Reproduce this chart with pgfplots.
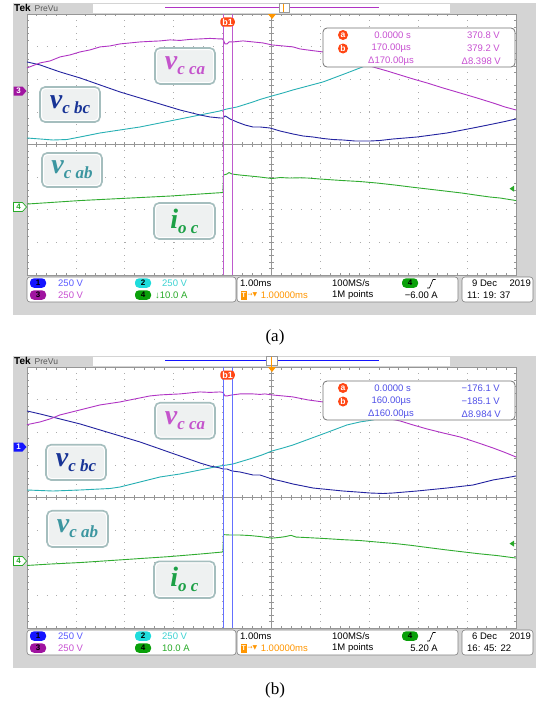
\documentclass[border=0pt]{standalone}
\usepackage{fontspec}
\setmainfont{Liberation Serif}
\newfontfamily\tek{Liberation Sans}
\newfontfamily\sym{DejaVu Sans}
\usepackage{pgfplots}
\usepackage{pgfplotstable}
\pgfplotsset{compat=1.18}

\definecolor{bggray}{RGB}{212,212,212}
\definecolor{gridc}{RGB}{150,150,150}
\definecolor{trM}{RGB}{176,52,196}
\definecolor{trB}{RGB}{36,36,160}
\definecolor{trC}{RGB}{40,176,180}
\definecolor{trG}{RGB}{48,172,48}
\definecolor{curA}{RGB}{190,90,205}
\definecolor{curB}{RGB}{100,112,255}
\definecolor{labM}{RGB}{196,84,204}
\definecolor{labB}{RGB}{24,52,150}
\definecolor{labC}{RGB}{60,150,160}
\definecolor{labG}{RGB}{28,160,70}
\definecolor{boxfill}{RGB}{238,241,241}
\definecolor{boxedge}{RGB}{165,190,190}
\definecolor{stB}{RGB}{90,90,255}
\definecolor{stC}{RGB}{60,210,210}
\definecolor{stM}{RGB}{200,80,210}
\definecolor{stG}{RGB}{40,170,40}
\definecolor{rdB}{RGB}{80,80,232}
\definecolor{bdgB}{RGB}{20,20,255}
\definecolor{bdgC}{RGB}{30,220,220}
\definecolor{bdgM}{RGB}{160,20,160}
\definecolor{bdgG}{RGB}{10,160,10}
\definecolor{orng}{RGB}{255,150,0}
\definecolor{redo}{RGB}{255,70,20}

\newcommand\tf{\tek\fontsize{9.5}{10}\selectfont}
\newcommand\bdgfont{\tek\bfseries\fontsize{8}{8}\selectfont}

\pgfplotsset{tekscope/.style={
  width=489pt, height=261pt, scale only axis,
  anchor=north west,
  xmin=0, xmax=10, ymin=-4, ymax=4,
  xtick={0,...,10}, ytick={-4,...,4},
  xmajorticks=false, ymajorticks=false,
  minor x tick num=4, minor y tick num=4,
  xminorticks=true, yminorticks=true,
  tick align=inside, minor tick length=2.5pt,
  minor tick style={gridc, line width=0.6pt},
  xmajorgrids=true, ymajorgrids=true,
  x grid style={gridc!80, line width=0.7pt, dash pattern=on 0.8pt off 5.72pt},
  y grid style={gridc!80, line width=0.7pt, dash pattern=on 0.8pt off 8.98pt},
  axis line style={gridc, line width=0.8pt},
  axis background/.style={fill=white},
  clip=true,
  every axis plot/.append style={line width=0.9pt, no markers},
}}

\newcommand\labbox[5]{%
  \draw[boxedge, line width=1.6pt, fill=boxfill, rounded corners=5pt] (#1,#2) rectangle (#3,#4);
  \draw[white, line width=0.8pt, rounded corners=4pt] ({#1+1.6},{#2+1.6}) rectangle ({#3-1.6},{#4-1.6});
  \node[inner sep=0pt] at ({(#1+#3)/2},{(#2+#4)/2}) {#5};}
\newcommand\labtext[3]{\textcolor{#1}{\fontsize{28}{28}\selectfont\bfseries\itshape #2\raisebox{-5pt}{\fontsize{17}{17}\selectfont #3}}}
\newcommand\badge[4]{%
  \fill[#3, rounded corners=4pt] (#1,#2) rectangle ({#1+16},{#2+9.5});
  \node[inner sep=0pt, text=black] at ({#1+8},{#2+4.75}) {\bdgfont #4};}

\newcommand\panelbg{%
  \fill[bggray] (13,3) rectangle (536,315);
  \fill[white] (93,3.5) rectangle (450,13);
  \node[anchor=west, inner sep=0pt] at (14,8.3) {\tek\bfseries\fontsize{10}{10}\selectfont Tek};
  \node[anchor=west, inner sep=0pt, text=black!65] at (34.5,8.3) {\tek\fontsize{8.5}{8.5}\selectfont PreVu};
}
\newcommand\panelfg{%
  \fill[orng] (268,14) -- (276,14) -- (272,19) -- cycle;
  \node[fill=redo, rounded corners=3.5pt, inner xsep=2pt, inner ysep=1.2pt, text=white] at (227.5,22) {\tek\bfseries\fontsize{9}{9}\selectfont b1};
  \draw[fill=white, draw=black!55, line width=0.8pt, rounded corners=4pt] (323,28) rectangle (515,67);
  \fill[redo] (343,35) circle (5);
  \node[text=white, inner sep=0pt] at (343,35) {\tek\bfseries\fontsize{8.5}{8.5}\selectfont a};
  \fill[redo] (343,48.5) circle (5);
  \node[text=white, inner sep=0pt] at (343,48.5) {\tek\bfseries\fontsize{8.5}{8.5}\selectfont b};
  \draw[fill=white, draw=black!50, line width=0.6pt, rounded corners=3pt] (27,277) rectangle (236,302);
  \draw[fill=white, draw=black!50, line width=0.6pt, rounded corners=3pt] (237,277) rectangle (458,302);
  \draw[fill=white, draw=black!50, line width=0.6pt, rounded corners=3pt] (462,277) rectangle (533,302);
  \badge{30}{278.3}{bdgB}{1}
  \badge{135}{278.3}{bdgC}{2}
  \badge{30}{290.3}{bdgM}{3}
  \badge{135}{290.3}{bdgG}{4}
  \badge{402}{278.3}{bdgG}{4}
  \node[anchor=west, inner sep=0pt, text=stB] at (58,283) {\tf 250 V};
  \node[anchor=west, inner sep=0pt, text=stM] at (58,295) {\tf 250 V};
  \node[anchor=west, inner sep=0pt, text=stC] at (162,283) {\tf 250 V};
  \node[anchor=west, inner sep=0pt] at (240,283) {\tf 1.00ms};
  \fill[orng] (240.5,290.5) rectangle (247,299.5);
  \node[text=white, inner sep=0pt] at (243.75,295) {\tek\bfseries\fontsize{7}{7}\selectfont T};
  \node[anchor=west, inner sep=0pt, text=orng] at (247.5,295) {\sym\fontsize{6}{6}\selectfont →▼};
  \node[anchor=east, inner sep=0pt, text=orng] at (308,295) {\tf 1.00000ms};
  \node[anchor=west, inner sep=0pt] at (332,283) {\tf 100MS/s};
  \node[anchor=west, inner sep=0pt] at (332,295) {\tf 1M points};
  \draw[line width=0.6pt] (427,288) -- (429.5,288) -- (433,279.5) -- (435.5,279.5);
}
\newcommand\centerlines{%
  \draw[gridc, line width=0.8pt] (axis cs:0,0) -- (axis cs:10,0);
  \draw[gridc, line width=0.8pt] (axis cs:5,-4) -- (axis cs:5,4);
  \pgfplotsinvokeforeach{0.2,0.4,...,9.8}{\draw[gridc, line width=0.6pt] (axis cs:##1,-0.075) -- (axis cs:##1,0.075);}
  \pgfplotsinvokeforeach{-3.8,-3.6,...,3.8}{\draw[gridc, line width=0.6pt] (axis cs:4.95,##1) -- (axis cs:5.05,##1);}
}

\begin{document}

\pgfplotstableread{
t d
0.000 2.347
0.266 2.500
0.470 2.561
0.675 2.684
0.879 2.745
1.084 2.837
1.288 2.899
1.493 2.991
1.697 3.021
1.902 3.083
2.106 3.113
2.311 3.144
2.515 3.160
2.720 3.175
2.924 3.206
3.129 3.190
3.333 3.221
3.538 3.236
3.742 3.252
3.947 3.236
4.008 3.236
4.049 3.083
4.090 3.083
4.131 3.144
4.213 3.144
4.417 3.175
4.622 3.144
4.826 3.113
5.010 3.052
5.235 3.021
5.440 2.991
5.583 2.929
5.726 2.899
5.890 2.868
6.053 2.837
6.401 2.684
6.748 2.531
7.076 2.377
7.362 2.255
7.628 2.132
7.894 2.009
8.180 1.887
8.507 1.733
8.855 1.580
9.202 1.426
9.530 1.273
9.775 1.150
10.000 1.058
}\magA

\pgfplotstableread{
t d
0.000 2.531
0.266 2.439
0.470 2.331
0.675 2.224
0.879 2.132
1.084 2.040
1.288 1.933
1.493 1.825
1.697 1.718
1.902 1.610
2.106 1.518
2.311 1.426
2.515 1.334
2.720 1.242
2.924 1.150
3.129 1.058
3.333 0.982
3.538 0.905
3.742 0.844
3.947 0.813
4.008 0.813
4.049 0.874
4.090 0.844
4.151 0.782
4.294 0.690
4.458 0.598
4.622 0.537
4.765 0.537
4.969 0.506
5.174 0.414
5.440 0.322
5.644 0.261
5.849 0.230
6.053 0.184
6.258 0.153
6.462 0.138
6.708 0.107
7.014 0.107
7.219 0.123
7.485 0.169
7.730 0.199
7.975 0.230
8.282 0.291
8.589 0.353
8.855 0.429
9.121 0.506
9.325 0.567
9.530 0.629
9.775 0.706
10.000 0.782
}\blueA

\pgfplotstableread{
t d
0.000 0.199
0.266 0.169
0.532 0.138
0.818 0.153
1.084 0.230
1.288 0.291
1.493 0.353
1.697 0.399
1.902 0.445
2.106 0.491
2.311 0.537
2.515 0.598
2.720 0.660
2.924 0.721
3.129 0.782
3.333 0.844
3.538 0.905
3.742 0.966
3.947 1.028
4.008 1.058
4.090 1.089
4.294 1.150
4.458 1.227
4.622 1.304
4.765 1.380
5.010 1.488
5.235 1.580
5.440 1.672
5.746 1.794
6.053 1.917
6.299 2.055
6.544 2.193
6.810 2.347
7.014 2.469
}\cyanA

\pgfplotstableread{
t d
0.000 -1.825
0.470 -1.779
1.084 -1.718
1.697 -1.672
2.311 -1.626
2.924 -1.580
3.538 -1.518
4.008 -1.472
4.018 -0.936
4.090 -0.905
4.131 -0.860
4.192 -0.905
4.356 -0.936
4.560 -0.966
4.765 -0.997
5.010 -1.043
5.174 -1.012
5.378 -1.028
5.583 -1.020
5.746 -1.028
5.992 -1.058
6.442 -1.104
6.810 -1.135
7.157 -1.181
7.526 -1.242
7.853 -1.304
8.200 -1.365
8.548 -1.426
8.896 -1.488
9.243 -1.564
9.468 -1.610
9.673 -1.640
10.000 -1.718
}\greenA

\pgfplotstableread{
t d
0.000 2.233
0.266 2.316
0.470 2.408
0.675 2.531
0.879 2.607
1.084 2.684
1.288 2.761
1.493 2.837
1.697 2.883
1.902 2.929
2.106 2.991
2.311 3.052
2.515 3.113
2.720 3.144
2.924 3.160
3.129 3.175
3.333 3.206
3.538 3.236
3.742 3.221
3.947 3.236
4.008 3.221
4.049 3.113
4.090 3.113
4.192 3.144
4.356 3.175
4.622 3.175
4.765 3.160
4.867 3.175
5.010 3.144
5.235 3.113
5.440 3.083
5.746 2.991
6.053 2.929
6.401 2.776
6.810 2.623
7.219 2.469
7.628 2.347
7.894 2.224
8.180 2.101
8.507 1.979
8.855 1.856
9.202 1.687
9.530 1.518
9.775 1.380
10.000 1.242
}\magB

\pgfplotstableread{
t d
0.000 2.653
0.266 2.561
0.470 2.485
0.675 2.408
0.879 2.331
1.084 2.255
1.288 2.163
1.493 2.071
1.697 1.979
1.902 1.887
2.106 1.794
2.311 1.702
2.515 1.595
2.720 1.488
2.924 1.380
3.129 1.273
3.333 1.166
3.538 1.058
3.742 0.966
3.947 0.905
4.008 0.874
4.090 0.874
4.192 0.813
4.356 0.782
4.622 0.690
4.765 0.690
5.010 0.567
5.235 0.491
5.440 0.414
5.644 0.353
5.849 0.291
6.155 0.245
6.462 0.199
6.748 0.169
7.014 0.138
7.280 0.123
7.485 0.138
7.730 0.169
7.975 0.199
8.282 0.245
8.589 0.291
8.855 0.337
9.121 0.383
9.325 0.460
9.530 0.537
9.775 0.598
10.000 0.660
}\blueB

\pgfplotstableread{
t d
0.000 0.230
0.532 0.199
1.084 0.230
1.493 0.261
1.697 0.276
1.902 0.322
2.106 0.399
2.311 0.475
2.515 0.552
2.720 0.629
2.924 0.675
3.129 0.721
3.333 0.782
3.538 0.844
3.742 0.905
3.947 0.966
4.090 0.997
4.213 1.028
4.417 1.120
4.622 1.212
4.806 1.304
5.010 1.426
5.235 1.518
5.440 1.610
5.746 1.779
6.053 1.948
6.299 2.086
6.544 2.224
6.810 2.316
7.076 2.377
7.321 2.500
}\cyanB

\pgfplotstableread{
t d
0.000 -2.083
0.470 -2.040
1.084 -1.994
1.697 -1.933
2.311 -1.871
2.924 -1.810
3.538 -1.733
3.988 -1.672
4.008 -1.650
4.018 -1.138
4.151 -1.150
4.356 -1.150
4.560 -1.166
4.765 -1.196
5.010 -1.245
5.174 -1.222
5.276 -1.200
5.399 -1.160
5.501 -1.212
5.746 -1.230
6.094 -1.258
6.442 -1.291
6.810 -1.319
7.157 -1.365
7.526 -1.411
7.853 -1.466
8.200 -1.534
8.548 -1.601
8.896 -1.663
9.243 -1.724
9.611 -1.779
10.000 -1.856
}\greenB

\begin{tikzpicture}
\path[use as bounding box] (0pt,0pt) rectangle (537pt,-704pt);

% ---------------- panel (a) ----------------
\begin{scope}[x=1pt,y=-1pt]
  \panelbg
  \draw[trM, line width=0.8pt] (165,7.5) -- (379,7.5);
  \draw[black!40, fill=white] (279,3.5) rectangle (289,12.5);
  \draw[orng, line width=1.4pt] (283.5,4) -- (283.5,12);
\end{scope}

\begin{axis}[tekscope, at={(27pt,-14pt)}]
  \centerlines
  \addplot[trC] table {\cyanA};
  \addplot[trB] table {\blueA};
  \addplot[trM] table {\magA};
  \addplot[trG] table {\greenA};
  \addplot[curA, line width=0.7pt] coordinates {(4.008,-4) (4.008,4)};
  \addplot[curA, line width=0.7pt] coordinates {(4.192,-4) (4.192,4)};
\end{axis}

\begin{scope}[x=1pt,y=-1pt]
  \panelfg
  \node[anchor=east, inner sep=0pt, text=stM] at (411,35) {\tf 0.0000 s};
  \node[anchor=east, inner sep=0pt, text=stM] at (411,48.5) {\tf 170.00µs};
  \node[anchor=east, inner sep=0pt, text=stM] at (414,61.5) {\tf Δ170.00µs};
  \node[anchor=east, inner sep=0pt, text=stM] at (500,35) {\tf 370.8 V};
  \node[anchor=east, inner sep=0pt, text=stM] at (500,48.5) {\tf 379.2 V};
  \node[anchor=east, inner sep=0pt, text=stM] at (501,61.5) {\tf Δ8.398 V};
  \node[anchor=west, inner sep=0pt, text=stG] at (155,295) {\tf ↓10.0 A};
  \node[anchor=east, inner sep=0pt] at (438,295) {\tf −6.00 A};
  \node[anchor=west, inner sep=0pt] at (472,283) {\tf 9 Dec};
  \node[anchor=east, inner sep=0pt] at (531,283) {\tf 2019};
  \node[anchor=west, inner sep=0pt] at (467,295) {\tf 11: 19: 37};
  % channel markers
  \fill[bdgM] (13.5,86.5) -- (22.5,86.5) -- (26.5,91) -- (22.5,95.5) -- (13.5,95.5) -- cycle;
  \node[text=white, inner sep=0pt] at (18.5,91) {\bdgfont 3};
  \draw[stG, fill=white, line width=0.7pt] (13.5,202.5) -- (22.5,202.5) -- (26.5,207) -- (22.5,211.5) -- (13.5,211.5) -- cycle;
  \node[text=stG, inner sep=0pt] at (18.5,207) {\bdgfont 4};
  \fill[stG] (509.5,188.7) -- (514,185.7) -- (514,191.7) -- cycle;
  % labels
  \labbox{155}{48}{215}{84}{\labtext{labM}{v}{c ca}}
  \labbox{40}{87}{100}{122}{\labtext{labB}{v}{c bc}}
  \labbox{42}{153}{102}{187}{\labtext{labC}{v}{c ab}}
  \labbox{154}{203}{215}{239}{\labtext{labG}{i}{o c}}
  \node at (275,337) {\fontsize{17}{17}\selectfont (a)};
\end{scope}

% ---------------- panel (b) ----------------
\begin{scope}[x=1pt,y=-1pt,yshift=-353pt]
  \panelbg
  \draw[bdgB, line width=0.8pt] (165,7.5) -- (379,7.5);
  \draw[black!40, fill=white] (266,3.5) rectangle (277,12.5);
  \draw[orng, line width=1.4pt] (271.5,4) -- (271.5,14);
\end{scope}

\begin{axis}[tekscope, at={(27pt,-367pt)}]
  \centerlines
  \addplot[trC] table {\cyanB};
  \addplot[trB] table {\blueB};
  \addplot[trM] table {\magB};
  \addplot[trG] table {\greenB};
  \addplot[curB, line width=0.7pt] coordinates {(4.008,-4) (4.008,4)};
  \addplot[curB, line width=0.7pt] coordinates {(4.192,-4) (4.192,4)};
\end{axis}

\begin{scope}[x=1pt,y=-1pt,yshift=-353pt]
  \panelfg
  \node[anchor=east, inner sep=0pt, text=rdB] at (411,35) {\tf 0.0000 s};
  \node[anchor=east, inner sep=0pt, text=rdB] at (411,48.5) {\tf 160.00µs};
  \node[anchor=east, inner sep=0pt, text=rdB] at (414,61.5) {\tf Δ160.00µs};
  \node[anchor=east, inner sep=0pt, text=rdB] at (500,35) {\tf −176.1 V};
  \node[anchor=east, inner sep=0pt, text=rdB] at (500,48.5) {\tf −185.1 V};
  \node[anchor=east, inner sep=0pt, text=rdB] at (501,61.5) {\tf Δ8.984 V};
  \node[anchor=west, inner sep=0pt, text=stG] at (162,295) {\tf 10.0 A};
  \node[anchor=east, inner sep=0pt] at (438,295) {\tf 5.20 A};
  \node[anchor=west, inner sep=0pt] at (472,283) {\tf 6 Dec};
  \node[anchor=east, inner sep=0pt] at (531,283) {\tf 2019};
  \node[anchor=west, inner sep=0pt] at (467,295) {\tf 16: 45: 22};
  \fill[bdgB] (13.5,89.5) -- (22.5,89.5) -- (26.5,94) -- (22.5,98.5) -- (13.5,98.5) -- cycle;
  \node[text=white, inner sep=0pt] at (18.5,94) {\bdgfont 1};
  \draw[stG, fill=white, line width=0.7pt] (13.5,203.5) -- (22.5,203.5) -- (26.5,208) -- (22.5,212.5) -- (13.5,212.5) -- cycle;
  \node[text=stG, inner sep=0pt] at (18.5,208) {\bdgfont 4};
  \fill[stG] (509.5,190.6) -- (514,187.6) -- (514,193.6) -- cycle;
  \labbox{155}{49.7}{215}{85.7}{\labtext{labM}{v}{c ca}}
  \labbox{46}{91.7}{106}{127}{\labtext{labB}{v}{c bc}}
  \labbox{47}{157.7}{108}{194}{\labtext{labC}{v}{c ab}}
  \labbox{154}{208.4}{215}{245}{\labtext{labG}{i}{o c}}
  \node at (275,337) {\fontsize{17}{17}\selectfont (b)};
\end{scope}
\end{tikzpicture}
\end{document}
